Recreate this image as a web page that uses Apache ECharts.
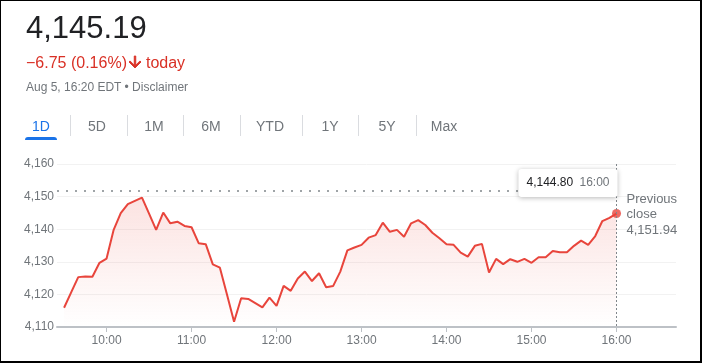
<!DOCTYPE html>
<html>
<head>
<meta charset="utf-8">
<script src="https://cdn.jsdelivr.net/npm/echarts@6/dist/echarts.min.js"></script>
<style>
  html, body { margin: 0; padding: 0; background: #fff; }
  #wrap { position: relative; width: 702px; height: 363px; overflow: hidden; font-family: "Liberation Sans", Arial, sans-serif; }
  #chart { position: absolute; left: 0; top: 0; width: 702px; height: 363px; }
  .abs { position: absolute; white-space: nowrap; }
  #price { left: 26px; top: 12px; font-size: 31px; line-height: 31px; color: #202124; }
  #change { left: 26px; top: 53px; font-size: 16px; line-height: 16px; color: #d93025; }
  #change svg { vertical-align: -3px; margin: 0 2px 0 -1px; }
  #date { left: 26px; top: 81px; font-size: 12px; line-height: 12px; color: #70757a; }
  .tab { top: 119px; font-size: 14px; line-height: 14px; color: #70757a; transform: translateX(-50%); }
  .tab.on { color: #1a73e8; }
  .sep { top: 115px; width: 1px; height: 21px; background: #dadce0; }
  #uline { left: 25px; top: 137px; width: 32px; height: 3px; background: #1a73e8; border-radius: 3px 3px 0 0; }
  #border { position: absolute; left: 0; top: 0; width: 702px; height: 363px; box-sizing: border-box;
            border-top: 1px solid #000; border-left: 1px solid #000; border-right: 2px solid #000; border-bottom: 2px solid #000; pointer-events: none; }
</style>
</head>
<body>
<div id="wrap">
  <div id="chart"></div>
  <div id="price" class="abs">4,145.19</div>
  <div id="change" class="abs">−6.75 (0.16%)<svg width="18" height="18" viewBox="0 0 24 24"><path fill="#d93025" stroke="#d93025" stroke-width="1.2" stroke-linejoin="miter" d="M20 12l-1.41-1.41L13 16.17V4h-2v12.17l-5.58-5.59L4 12l8 8 8-8z"/></svg>today</div>
  <div id="date" class="abs">Aug 5, 16:20 EDT • Disclaimer</div>
  <div id="tabs"></div>
  <div id="uline" class="abs"></div>
  <div id="border"></div>
</div>
<script>
// ---- data ----
const times = [
  "9:30","9:35","9:40","9:45","9:50","9:55",
  "10:00","10:05","10:10","10:15","10:20","10:25","10:30","10:35","10:40","10:45","10:50","10:55",
  "11:00","11:05","11:10","11:15","11:20","11:25","11:30","11:35","11:40","11:45","11:50","11:55",
  "12:00","12:05","12:10","12:15","12:20","12:25","12:30","12:35","12:40","12:45","12:50","12:55",
  "13:00","13:05","13:10","13:15","13:20","13:25","13:30","13:35","13:40","13:45","13:50","13:55",
  "14:00","14:05","14:10","14:15","14:20","14:25","14:30","14:35","14:40","14:45","14:50","14:55",
  "15:00","15:05","15:10","15:15","15:20","15:25","15:30","15:35","15:40","15:45","15:50","15:55",
  "16:00"
];
const prices = [
  4115.9,4120.6,4125.3,4125.5,4125.4,4129.7,
  4131.0,4139.8,4144.9,4147.7,4148.7,4149.7,4144.8,4139.8,4145.1,4141.8,4142.3,4141.0,
  4140.6,4135.7,4135.4,4129.2,4128.2,4120.0,4111.6,4118.8,4118.6,4117.3,4116.0,4119.0,
  4116.5,4122.6,4121.1,4124.9,4127.0,4124.1,4126.5,4122.2,4122.6,4127.0,4133.5,4134.4,
  4135.2,4137.4,4138.2,4142.0,4139.2,4139.8,4137.7,4141.8,4142.8,4141.3,4138.9,4137.2,
  4135.4,4135.2,4132.8,4131.6,4134.9,4135.5,4126.7,4130.9,4129.3,4130.8,4130.0,4130.9,
  4129.7,4131.4,4131.4,4133.3,4132.9,4132.9,4134.9,4136.5,4135.2,4137.9,4142.5,4143.5,
  4144.80
];
const prevClose = 4151.94;
const xTickLabels = ["10:00","11:00","12:00","13:00","14:00","15:00","16:00"];
const yTickValues = [4110,4120,4130,4140,4150,4160];
const tabLabels = ["1D","5D","1M","6M","YTD","1Y","5Y","Max"];

// ---- tabs (HTML) ----
const tabCenters = [41,97,154,211,270,330,387,444];
const sepX = [70,127,183,240,302,358,416];
const tabsEl = document.getElementById('tabs');
tabLabels.forEach((t, i) => {
  const d = document.createElement('div');
  d.className = 'abs tab' + (i === 0 ? ' on' : '');
  d.style.left = tabCenters[i] + 'px';
  d.textContent = t;
  tabsEl.appendChild(d);
});
sepX.forEach(x => {
  const s = document.createElement('div');
  s.className = 'abs sep';
  s.style.left = x + 'px';
  tabsEl.appendChild(s);
});

// ---- chart ----
const toMin = t => { const [h, m] = t.split(':').map(Number); return h * 60 + m; };
const seriesData = times.map((t, i) => [toMin(t), prices[i]]);
const hourTicks = xTickLabels.map(toMin);
const lastT = toMin(times[times.length - 1]);
const lastP = prices[prices.length - 1];
const fmtNum = v => v.toLocaleString('en-US', { minimumFractionDigits: 0, maximumFractionDigits: 2 });
const fmt2 = v => v.toLocaleString('en-US', { minimumFractionDigits: 2, maximumFractionDigits: 2 });
const FONT = '"Liberation Sans", Arial, sans-serif';
const red = '#e8453c';

const chart = echarts.init(document.getElementById('chart'), null, { renderer: 'canvas' });
chart.setOption({
  animation: false,
  grid: { left: 57, right: 26, top: 164, bottom: 36, containLabel: false, outerBoundsMode: 'none' },
  xAxis: {
    type: 'value',
    min: 565, max: 1002,
    axisLine: { show: true, lineStyle: { color: '#bdc1c6', width: 2 } },
    axisTick: { show: true, customValues: hourTicks, length: 5, lineStyle: { color: '#bdc1c6', width: 1 } },
    axisLabel: {
      customValues: hourTicks,
      formatter: v => { const i = hourTicks.indexOf(v); return i >= 0 ? xTickLabels[i] : ''; },
      color: '#70757a', fontSize: 12, fontFamily: FONT, margin: 8
    },
    splitLine: { show: false }
  },
  yAxis: {
    type: 'value',
    min: yTickValues[0], max: yTickValues[yTickValues.length - 1], interval: 10,
    axisLine: { show: false },
    axisTick: { show: false },
    axisLabel: { formatter: v => fmtNum(v), color: '#70757a', fontSize: 12, fontFamily: FONT, margin: 3 },
    splitLine: { show: true, lineStyle: { color: '#f2f2f2', width: 1 } }
  },
  series: [
    {
      type: 'line',
      data: seriesData,
      showSymbol: false,
      lineStyle: { color: red, width: 2 },
      areaStyle: {
        color: new echarts.graphic.LinearGradient(0, 0, 0, 1, [
          { offset: 0, color: 'rgba(232,69,60,0.22)' },
          { offset: 1, color: 'rgba(232,69,60,0.0)' }
        ])
      },
      markLine: {
        silent: true,
        symbol: 'none',
        label: { show: false },
        data: [
          [
            { coord: [565, prevClose], lineStyle: { color: '#80868b', width: 1.5, type: [2, 7] } },
            { coord: [lastT, prevClose] }
          ],
          [
            { coord: [lastT, yTickValues[yTickValues.length - 1]], lineStyle: { color: '#80868b', width: 1, type: [2, 2] } },
            { coord: [lastT, yTickValues[0]] }
          ]
        ]
      },
      z: 2
    },
    {
      type: 'scatter',
      data: [[lastT, lastP]],
      symbolSize: 9,
      itemStyle: { color: red },
      z: 4
    }
  ]
});

// annotations placed from the chart's own scales
const pLast = chart.convertToPixel({ gridIndex: 0 }, [lastT, lastP]);
const pPrev = chart.convertToPixel({ gridIndex: 0 }, [lastT, prevClose]);
const pTop = chart.convertToPixel({ gridIndex: 0 }, [lastT, yTickValues[yTickValues.length - 1]]);
const bx = pLast[0] + 1, by = pTop[1] + 5;
const boxW = 99, boxH = 28;
chart.setOption({
  graphic: [
    {
      type: 'rect', z: 10,
      shape: { x: bx - boxW, y: by, width: boxW, height: boxH, r: 3 },
      style: { fill: '#fff', shadowBlur: 5, shadowColor: 'rgba(0,0,0,0.28)', shadowOffsetY: 1 }
    },
    {
      type: 'text', z: 11,
      style: { text: fmt2(lastP), x: bx - boxW + 8, y: by + boxH / 2, fill: '#202124', font: '12px ' + FONT, verticalAlign: 'middle', align: 'left' }
    },
    {
      type: 'text', z: 11,
      style: { text: times[times.length - 1], x: bx - 8, y: by + boxH / 2, fill: '#70757a', font: '12px ' + FONT, verticalAlign: 'middle', align: 'right' }
    },
    {
      type: 'text', z: 11,
      style: { text: 'Previous\nclose\n' + fmt2(prevClose), x: pPrev[0] + 10, y: pPrev[1] + 1, fill: '#70757a', font: '13px ' + FONT, lineHeight: 15.5, verticalAlign: 'top', align: 'left' }
    }
  ]
});
</script>
</body>
</html>
